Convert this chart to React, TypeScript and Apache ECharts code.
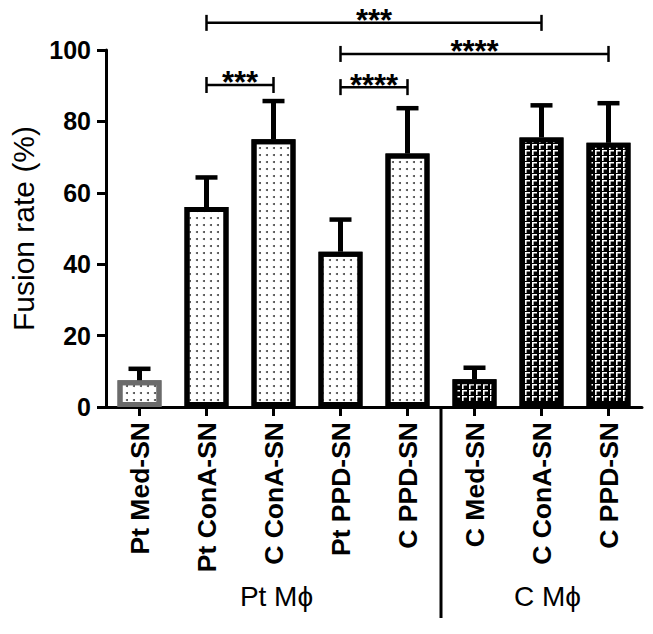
import React, { useEffect, useRef } from "react";
import * as echarts from "echarts";

const categories = [
  "Pt Med-SN",
  "Pt ConA-SN",
  "C ConA-SN",
  "Pt PPD-SN",
  "C PPD-SN",
  "C Med-SN",
  "C ConA-SN",
  "C PPD-SN",
];
const means = [7.5, 56, 75, 43.5, 71, 7.8, 75.5, 74];
const errors = [3.2, 8.3, 10.7, 9, 12.7, 3.2, 9, 11.1];
// 0 = gray-bordered dotted, 1 = dotted, 2 = black patterned
const barKinds = [0, 1, 1, 1, 1, 2, 2, 2];

const yTicks = [0, 20, 40, 60, 80, 100];

const sigFrom = [1, 3, 1, 3];
const sigTo = [6, 7, 2, 4];
const sigLevel = [107.6, 98.9, 90.2, 89.6];
const sigLabels = ["***", "****", "***", "****"];

const groupLabels = ["Pt M\u03d5", "C M\u03d5"];
const groupStart = [0, 5];
const groupEnd = [4, 7];

const FONT = "'Liberation Sans', Arial, sans-serif";

const dotDecal = {
  symbol: "circle",
  symbolSize: 1,
  color: "#444444",
  dashArrayX: [2, 5],
  dashArrayY: [2, 5],
};
const gammaDecal = {
  symbol: "path://M0,0H10V3.2H3.2V10H0Z",
  symbolSize: 1,
  symbolKeepAspect: false,
  color: "#ffffff",
  dashArrayX: [5, 2],
  dashArrayY: [5, 1],
};

function itemStyleFor(kind: number) {
  if (kind === 0) {
    return { color: "#ffffff", borderColor: "#6b6b6b", borderWidth: 5, decal: dotDecal };
  }
  if (kind === 1) {
    return { color: "#ffffff", borderColor: "#000000", borderWidth: 5, decal: dotDecal };
  }
  return { color: "#000000", borderColor: "#000000", borderWidth: 5, decal: gammaDecal };
}

export default function App() {
  const ref = useRef<HTMLDivElement>(null);

  useEffect(() => {
    if (!ref.current) return;
    const chart = echarts.init(ref.current, undefined, { renderer: "svg" });

    const option: any = {
      animation: false,
      backgroundColor: "#ffffff",
      grid: { left: 106, right: 11, top: 50, bottom: 227 },
      xAxis: {
        type: "category",
        data: categories,
        axisLine: { show: true, lineStyle: { color: "#000", width: 3 } },
        axisTick: { show: true, alignWithLabel: true, length: 9, lineStyle: { color: "#000", width: 3 } },
        axisLabel: {
          rotate: 90,
          interval: 0,
          fontSize: 26.5,
          fontWeight: "bold",
          color: "#000",
          margin: 15,
          fontFamily: FONT,
        },
        splitLine: { show: false },
      },
      yAxis: {
        type: "value",
        min: yTicks[0],
        max: yTicks[yTicks.length - 1],
        interval: yTicks[1] - yTicks[0],
        axisLine: { show: true, lineStyle: { color: "#000", width: 3 } },
        axisTick: { show: true, length: 9, lineStyle: { color: "#000", width: 3 } },
        axisLabel: { fontSize: 25, fontWeight: "bold", color: "#000", margin: 15, fontFamily: FONT },
        splitLine: { show: false },
        name: "Fusion rate (%)",
        nameLocation: "middle",
        nameGap: 68,
        nameTextStyle: { fontSize: 30, color: "#000", fontFamily: FONT },
      },
      series: [
        {
          type: "bar",
          barWidth: 44,
          data: means.map((v, i) => ({ value: v, itemStyle: itemStyleFor(barKinds[i]) })),
          z: 2,
        },
        {
          type: "custom",
          clip: false,
          z: 3,
          encode: { x: 0, y: 2 },
          data: means.map((m, i) => [i, m, m + errors[i]]),
          renderItem: (params: any, api: any) => {
            const base = api.coord([api.value(0), api.value(1)]);
            const top = api.coord([api.value(0), api.value(2)]);
            return {
              type: "group",
              children: [
                {
                  type: "line",
                  shape: { x1: base[0], y1: base[1], x2: top[0], y2: top[1] },
                  style: { stroke: "#000", lineWidth: 5 },
                },
                {
                  type: "line",
                  shape: { x1: top[0] - 11, y1: top[1], x2: top[0] + 11, y2: top[1] },
                  style: { stroke: "#000", lineWidth: 4.5 },
                },
              ],
            };
          },
        },
        {
          type: "custom",
          clip: false,
          z: 4,
          encode: { x: 0, y: 2 },
          data: sigFrom.map((f, i) => [f, sigTo[i], sigLevel[i]]),
          renderItem: (params: any, api: any) => {
            const a = api.coord([api.value(0), api.value(2)]);
            const b = api.coord([api.value(1), api.value(2)]);
            const label = sigLabels[params.dataIndex];
            return {
              type: "group",
              children: [
                { type: "line", shape: { x1: a[0], y1: a[1], x2: b[0], y2: b[1] }, style: { stroke: "#000", lineWidth: 2.5 } },
                { type: "line", shape: { x1: a[0], y1: a[1] - 8, x2: a[0], y2: a[1] + 8 }, style: { stroke: "#000", lineWidth: 2.5 } },
                { type: "line", shape: { x1: b[0], y1: b[1] - 8, x2: b[0], y2: b[1] + 8 }, style: { stroke: "#000", lineWidth: 2.5 } },
                {
                  type: "text",
                  x: (a[0] + b[0]) / 2,
                  y: a[1] - 2,
                  style: {
                    text: label,
                    fontSize: 31,
                    fontWeight: "bold",
                    fontFamily: FONT,
                    fill: "#000",
                    align: "center",
                    verticalAlign: "middle",
                    textAlign: "center",
                    textVerticalAlign: "middle",
                  },
                },
              ],
            };
          },
        },
      ],
    };

    chart.setOption(option);

    const px = (i: number) => chart.convertToPixel({ xAxisIndex: 0 }, i) as number;
    const y0 = chart.convertToPixel({ yAxisIndex: 0 }, 0) as number;
    const dividerX = (px(groupEnd[0]) + px(groupStart[1])) / 2;

    const graphics: any[] = [
      {
        type: "line",
        shape: { x1: dividerX, y1: y0, x2: dividerX, y2: y0 + 211 },
        style: { stroke: "#000", lineWidth: 3 },
      },
    ];
    groupLabels.forEach((g, k) => {
      graphics.push({
        type: "text",
        x: (px(groupStart[k]) + px(groupEnd[k])) / 2 + (k === 1 ? 6 : 3),
        y: y0 + 189,
        style: {
          text: g,
          fontSize: 28,
          fontFamily: FONT,
          fill: "#000",
          textAlign: "center",
          textVerticalAlign: "middle",
        },
      });
    });
    chart.setOption({ graphic: graphics });

    return () => chart.dispose();
  }, []);

  return (
    <div
      ref={ref}
      style={{ position: "fixed", left: 0, top: 0, width: 653, height: 634, background: "#fff" }}
    />
  );
}
